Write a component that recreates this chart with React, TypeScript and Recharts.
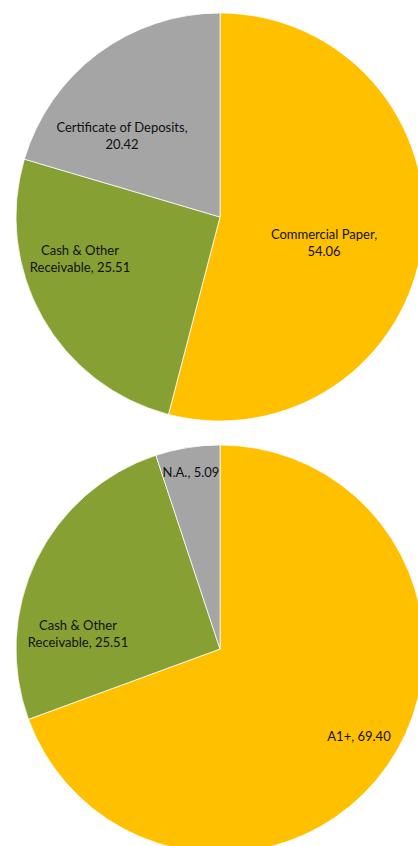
import React from "react";
import { PieChart, Pie, Cell } from "recharts";

// Asset allocation (%)
const assetNames = ["Commercial Paper", "Cash & Other Receivable", "Certificate of Deposits"];
const assetValues = [54.06, 25.51, 20.42];

// Rating profile (%)
const ratingNames = ["A1+", "Cash & Other Receivable", "N.A."];
const ratingValues = [69.4, 25.51, 5.09];

const assetColors = ["#FFC000", "#86A033", "#A5A5A5"];
const ratingColors = ["#FFC000", "#86A033", "#A5A5A5"];

// label layout: offset from pie centre + wrap width (chars)
const assetLabelLayout = [
    { dx: 104, dy: 25, wrap: 18 },
    { dx: -140, dy: 41, wrap: 18 },
    { dx: -98, dy: -82, wrap: 24 },
];
const ratingLabelLayout = [
    { dx: 139, dy: 87, wrap: 24 },
    { dx: -142, dy: -16, wrap: 18 },
    { dx: -29, dy: -177, wrap: 24 },
];

type Row = { name: string; value: number };

const assetData: Row[] = assetNames.map((n, i) => ({ name: n, value: assetValues[i] }));
const ratingData: Row[] = ratingNames.map((n, i) => ({ name: n, value: ratingValues[i] }));

const wrapText = (s: string, max: number) => {
    const words = s.split(" ");
    const lines: string[] = [];
    let cur = "";
    for (const w of words) {
        const next = cur ? cur + " " + w : w;
        if (next.length > max && cur) {
            lines.push(cur);
            cur = w;
        } else {
            cur = next;
        }
    }
    if (cur) lines.push(cur);
    return lines;
};

const makeLabel = (layout: { dx: number; dy: number; wrap: number }[]) => (props: any) => {
    const { cx, cy, index, name, value } = props;
    const l = layout[index];
    const lines = wrapText(`${name}, ${Number(value).toFixed(2)}`, l.wrap);
    const x = cx + l.dx;
    const y0 = cy + l.dy - ((lines.length - 1) * 17) / 2;
    return (
        <text
            x={x}
            y={y0}
            textAnchor="middle"
            fill="#111"
            fontSize={13}
            fontFamily="Lato, 'Open Sans', sans-serif"
        >
            {lines.map((ln, i) => (
                <tspan key={i} x={x} y={y0 + i * 17} dominantBaseline="central">
                    {ln}
                </tspan>
            ))}
        </text>
    );
};

export default function App() {
    return (
        <div style={{ position: "absolute", left: 0, top: 0, width: 418, height: 846, background: "#fff" }}>
            <PieChart width={418} height={846} margin={{ top: 0, right: 0, bottom: 0, left: 0 }}>
                <Pie
                    data={assetData}
                    dataKey="value"
                    nameKey="name"
                    cx={220}
                    cy={217}
                    outerRadius={204}
                    startAngle={90}
                    endAngle={-270}
                    stroke="#fff"
                    strokeWidth={0.75}
                    labelLine={false}
                    label={makeLabel(assetLabelLayout)}
                    isAnimationActive={false}
                >
                    {assetData.map((d, i) => (
                        <Cell key={d.name} fill={assetColors[i]} />
                    ))}
                </Pie>
                <Pie
                    data={ratingData}
                    dataKey="value"
                    nameKey="name"
                    cx={220}
                    cy={649}
                    outerRadius={204}
                    startAngle={90}
                    endAngle={-270}
                    stroke="#fff"
                    strokeWidth={0.75}
                    labelLine={false}
                    label={makeLabel(ratingLabelLayout)}
                    isAnimationActive={false}
                >
                    {ratingData.map((d, i) => (
                        <Cell key={d.name} fill={ratingColors[i]} />
                    ))}
                </Pie>
            </PieChart>
        </div>
    );
}
